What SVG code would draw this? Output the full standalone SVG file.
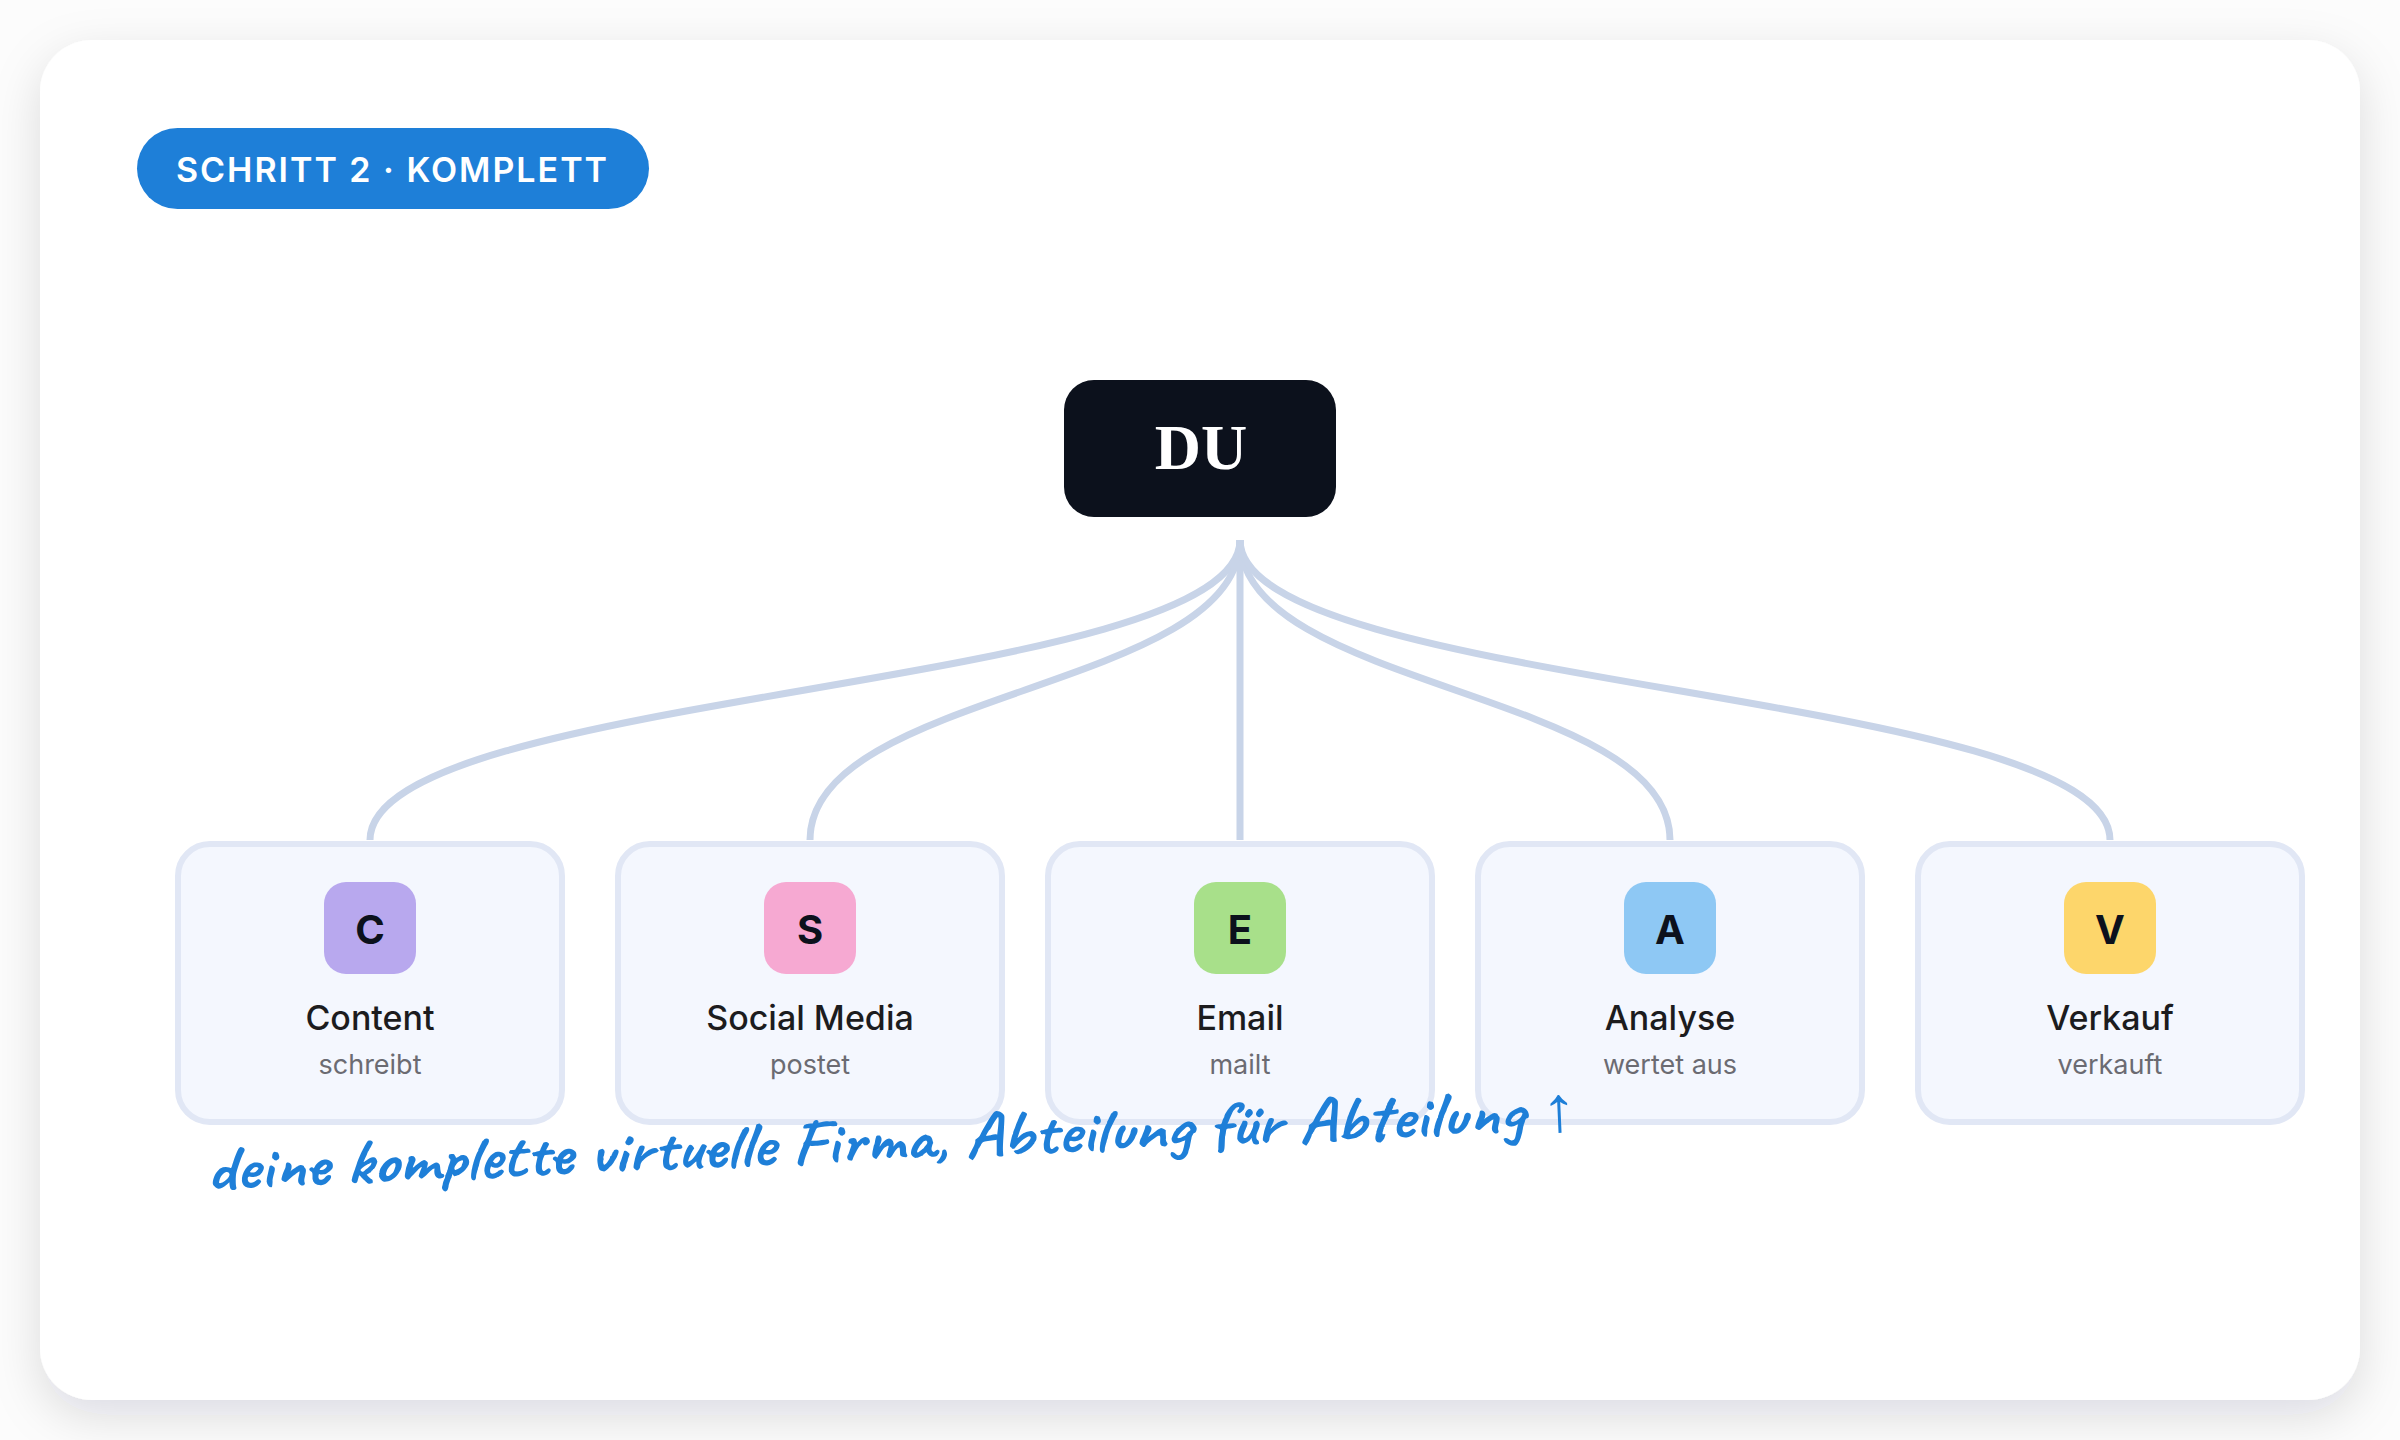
<svg xmlns="http://www.w3.org/2000/svg" width="2400" height="1440" viewBox="0 0 2400 1440">
  <defs>
    <filter id="shadow" x="-10%" y="-10%" width="120%" height="125%">
      <feGaussianBlur in="SourceAlpha" stdDeviation="24"/>
      <feOffset dy="16" result="b"/>
      <feFlood flood-color="#1b2330" flood-opacity="0.13"/>
      <feComposite in2="b" operator="in"/>
      <feMerge><feMergeNode/><feMergeNode in="SourceGraphic"/></feMerge>
    </filter>
    <style>
      .card { fill: #f4f7fe; stroke: #e1e7f5; stroke-width: 6; }
      .icon-letter { font-family: Inter, "Liberation Sans", sans-serif; font-weight: 700; font-size: 40px; fill: #0c111c; text-anchor: middle; }
      .title { font-family: Inter, "Liberation Sans", sans-serif; font-weight: 500; font-size: 34px; fill: #1c1c1e; text-anchor: middle; }
      .sub { font-family: Inter, "Liberation Sans", sans-serif; font-weight: 400; font-size: 27px; fill: #6b6b72; text-anchor: middle; }
      .conn { fill: none; stroke: #c8d4e8; stroke-width: 7; }
    </style>
  </defs>

  <rect x="0" y="0" width="2400" height="1440" fill="#fcfcfc"/>
  <rect x="40" y="40" width="2320" height="1360" rx="52" fill="#ffffff" filter="url(#shadow)"/>

  <g id="badge">
    <rect x="137" y="128" width="512" height="81" rx="40.5" fill="#1e7fd8"/>
    <text x="176" y="182" textLength="431" lengthAdjust="spacing" font-family="Inter, 'Liberation Sans', sans-serif" font-weight="600" font-size="34" fill="#ffffff">SCHRITT 2 · KOMPLETT</text>
  </g>

  <g id="connectors">
    <path class="conn" d="M1240 540 C1240 690 370 690 370 840"/>
    <path class="conn" d="M1240 540 C1240 690 810 690 810 840"/>
    <path class="conn" d="M1240 540 L1240 840"/>
    <path class="conn" d="M1240 540 C1240 690 1670 690 1670 840"/>
    <path class="conn" d="M1240 540 C1240 690 2110 690 2110 840"/>
  </g>

  <g id="node-du">
    <rect x="1064" y="380" width="272" height="137" rx="30" fill="#0c111c"/>
    <text x="1201" y="469" text-anchor="middle" font-family="'Liberation Serif', 'DejaVu Serif', serif" font-weight="700" font-size="64" fill="#ffffff">DU</text>
  </g>

  <g id="node-content">
    <rect class="card" x="178" y="844" width="384" height="278" rx="32"/>
    <rect x="324" y="882" width="92" height="92" rx="22" fill="#b8a8ee"/>
    <text class="icon-letter" x="370" y="944">C</text>
    <text class="title" x="370" y="1030">Content</text>
    <text class="sub" x="370" y="1074">schreibt</text>
  </g>

  <g id="node-social">
    <rect class="card" x="618" y="844" width="384" height="278" rx="32"/>
    <rect x="764" y="882" width="92" height="92" rx="22" fill="#f6a9d2"/>
    <text class="icon-letter" x="810" y="944">S</text>
    <text class="title" x="810" y="1030">Social Media</text>
    <text class="sub" x="810" y="1074">postet</text>
  </g>

  <g id="node-email">
    <rect class="card" x="1048" y="844" width="384" height="278" rx="32"/>
    <rect x="1194" y="882" width="92" height="92" rx="22" fill="#a8e08a"/>
    <text class="icon-letter" x="1240" y="944">E</text>
    <text class="title" x="1240" y="1030">Email</text>
    <text class="sub" x="1240" y="1074">mailt</text>
  </g>

  <g id="node-analyse">
    <rect class="card" x="1478" y="844" width="384" height="278" rx="32"/>
    <rect x="1624" y="882" width="92" height="92" rx="22" fill="#8ec8f4"/>
    <text class="icon-letter" x="1670" y="944">A</text>
    <text class="title" x="1670" y="1030">Analyse</text>
    <text class="sub" x="1670" y="1074">wertet aus</text>
  </g>

  <g id="node-verkauf">
    <rect class="card" x="1918" y="844" width="384" height="278" rx="32"/>
    <rect x="2064" y="882" width="92" height="92" rx="22" fill="#fdd66b"/>
    <text class="icon-letter" x="2110" y="944">V</text>
    <text class="title" x="2110" y="1030">Verkauf</text>
    <text class="sub" x="2110" y="1074">verkauft</text>
  </g>

  <g id="annotation" transform="rotate(-2.5 207 1190)">
    <text x="207" y="1190" textLength="1372" lengthAdjust="spacingAndGlyphs" font-family="Caveat, Kalam, 'Liberation Sans Narrow', 'Open Sans', sans-serif" font-weight="700" font-size="64" fill="#1e7fd8">deine komplette virtuelle Firma, Abteilung für Abteilung ↑</text>
  </g>
</svg>
